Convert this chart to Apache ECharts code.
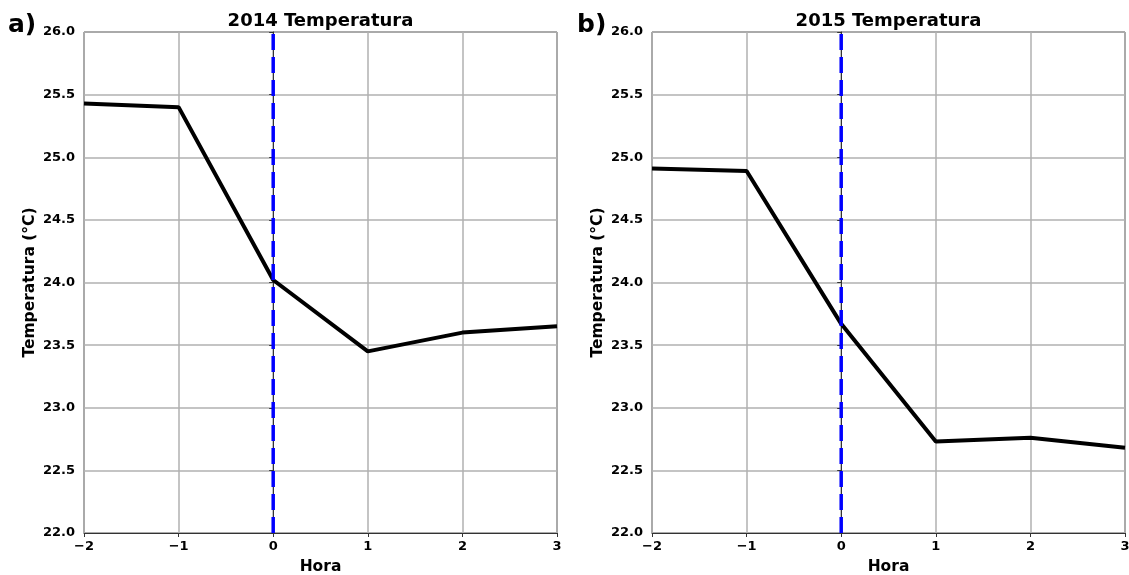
<!DOCTYPE html>
<html>
<head>
<meta charset="utf-8">
<script src="https://cdn.jsdelivr.net/npm/echarts@6/dist/echarts.min.js"></script>
<style>
html,body{margin:0;padding:0;background:#fff;overflow:hidden;}
#c{width:1129px;height:575px;}
</style>
</head>
<body>
<div id="c"></div>
<script>
const hours = [-2, -1, 0, 1, 2, 3];
const temp2014 = [25.43, 25.40, 24.02, 23.45, 23.60, 23.65];
const temp2015 = [24.91, 24.89, 23.67, 22.73, 22.76, 22.68];
const titles = ['2014 Temperatura', '2015 Temperatura'];
const panelLabels = ['a)', 'b)'];
const eventHour = 0;
const yMin = 22, yMax = 26, yStep = 0.5;
const xMin = -2, xMax = 3, xStep = 1;

const FONT = 'DejaVu Sans';
const chart = echarts.init(document.getElementById('c'));

const grids = [
  {left: 84, top: 32, width: 473, height: 501},
  {left: 652, top: 32, width: 473, height: 501}
];

function xAxisFor(i) {
  return {
    type: 'value', gridIndex: i, min: xMin, max: xMax, interval: xStep,
    name: 'Hora', nameLocation: 'middle', nameGap: 26,
    nameTextStyle: {fontFamily: FONT, fontWeight: 'bold', fontSize: 15.5, color: '#000'},
    axisLine: {show: true, onZero: false, lineStyle: {color: '#333', width: 1}},
    axisTick: {show: true, length: 4, lineStyle: {color: '#333'}},
    axisLabel: {fontFamily: FONT, fontWeight: 'bold', fontSize: 13, color: '#000', margin: 7,
      formatter: v => String(v).replace('-', '\u2212')},
    splitLine: {show: true, lineStyle: {color: '#b0b0b0', width: 1.5}}
  };
}
function yAxisFor(i) {
  return {
    type: 'value', gridIndex: i, min: yMin, max: yMax, interval: yStep,
    name: 'Temperatura (°C)', nameLocation: 'middle', nameGap: 46,
    nameTextStyle: {fontFamily: FONT, fontWeight: 'bold', fontSize: 15.5, color: '#000'},
    axisLine: {show: true, lineStyle: {color: '#333', width: 1}},
    axisTick: {show: true, length: 4, lineStyle: {color: '#333'}},
    axisLabel: {fontFamily: FONT, fontWeight: 'bold', fontSize: 13, color: '#000', margin: 9,
      formatter: v => v.toFixed(1)},
    splitLine: {show: true, lineStyle: {color: '#b0b0b0', width: 1.5}}
  };
}
function lineSeries(i, vals) {
  return {
    type: 'line', xAxisIndex: i, yAxisIndex: i,
    data: hours.map((h, k) => [h, vals[k]]),
    symbol: 'none', lineStyle: {color: '#000', width: 4}, z: 3
  };
}
function eventSeries(i) {
  return {
    type: 'line', xAxisIndex: i, yAxisIndex: i,
    data: [[eventHour, yMin], [eventHour, yMax]],
    symbol: 'none', silent: true,
    lineStyle: {color: '#0000ff', width: 3.5, type: [16, 7]}, z: 4
  };
}

chart.setOption({
  animation: false,
  backgroundColor: '#fff',
  title: titles.map((t, i) => ({
    text: t, left: grids[i].left + grids[i].width / 2, top: 12, textAlign: 'center', padding: 0,
    textStyle: {fontFamily: FONT, fontWeight: 'bold', fontSize: 18, color: '#000'}
  })).concat(panelLabels.map((t, i) => ({
    text: t, left: i === 0 ? 8 : 577, top: 13, padding: 0,
    textStyle: {fontFamily: FONT, fontWeight: 'bold', fontSize: 25, color: '#000'}
  }))),
  grid: grids.map(g => Object.assign({show: true, borderColor: '#333', borderWidth: 1,
    backgroundColor: 'transparent', containLabel: false, outerBoundsMode: 'none'}, g)),
  xAxis: [xAxisFor(0), xAxisFor(1)],
  yAxis: [yAxisFor(0), yAxisFor(1)],
  series: [lineSeries(0, temp2014), eventSeries(0), lineSeries(1, temp2015), eventSeries(1)]
});
</script>
</body>
</html>
